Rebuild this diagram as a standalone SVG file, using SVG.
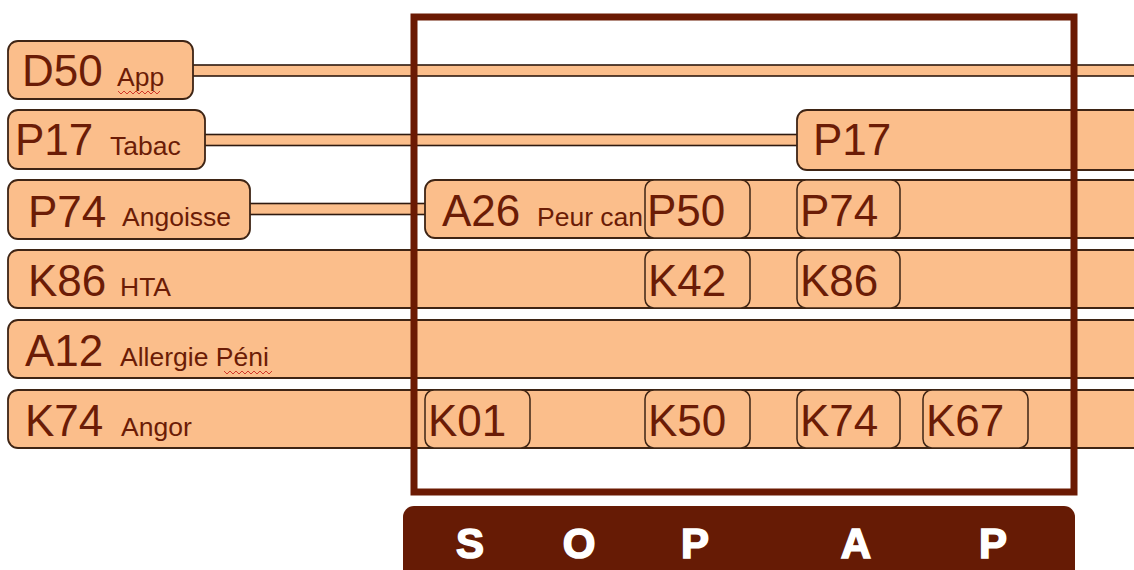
<svg xmlns="http://www.w3.org/2000/svg" width="1134" height="570" viewBox="0 0 1134 570">
<style>
.row{fill:#FBBE8B;stroke:#3E2414;stroke-width:1.8}
.cell{fill:#FBBE8B;stroke:#3E2414;stroke-width:1.5}
.band{fill:#FBBE8B;stroke:#2E1A10;stroke-width:1.6}
.code{font-family:"Liberation Sans",Arial,sans-serif;font-size:44px;fill:#6B1C06}
.lbl{font-family:"Liberation Sans",Arial,sans-serif;font-size:26.5px;fill:#6B1C06}
.soap{font-family:"Liberation Sans",Arial,sans-serif;font-size:42px;font-weight:bold;fill:#FFFFFF;stroke:#FFFFFF;stroke-width:1.6;text-anchor:middle}
.sq{fill:none;stroke:#D23A2A;stroke-width:1}
</style>
<rect width="1134" height="570" fill="#FFFFFF"/>
<g id="connectors">
<rect class="band" x="192" y="65" width="960" height="11"/>
<rect class="band" x="204" y="134.5" width="596" height="11"/>
<rect class="band" x="249" y="203.5" width="178" height="11"/>
</g>
<g id="row-D50">
<rect class="row" x="8" y="41" width="185" height="58" rx="10"/>
<text class="code" x="22" y="86">D50</text>
<text class="lbl" x="117" y="86">App</text>
<path class="sq" d="M118 91 l3 3 l3 -3 l3 3 l3 -3 l3 3 l3 -3 l3 3 l3 -3 l3 3 l3 -3 l3 3 l3 -3 l3 3 l3 -3"/>
</g>
<g id="row-P17">
<rect class="row" x="8" y="110" width="197" height="59" rx="10"/>
<text class="code" x="15" y="155">P17</text>
<text class="lbl" x="110" y="155">Tabac</text>
</g>
<g id="node-P17-right">
<rect class="row" x="797" y="110" width="360" height="60" rx="10"/>
<text class="code" x="813" y="155">P17</text>
</g>
<g id="row-P74">
<rect class="row" x="8" y="180" width="242" height="59" rx="10"/>
<text class="code" x="28" y="227">P74</text>
<text class="lbl" x="122" y="226">Angoisse</text>
</g>
<g id="node-A26">
<rect class="row" x="425" y="180" width="732" height="58" rx="10"/>
<text class="code" x="442" y="226">A26</text>
<text class="lbl" x="537" y="226">Peur can</text>
</g>
<g id="node-P50">
<rect class="cell" x="645" y="180" width="105" height="58" rx="9"/>
<text class="code" x="647" y="226">P50</text>
</g>
<g id="node-P74-right">
<rect class="cell" x="797" y="180" width="103" height="58" rx="9"/>
<text class="code" x="800" y="226">P74</text>
</g>
<g id="row-K86">
<rect class="row" x="8" y="250" width="1149" height="58" rx="10"/>
<text class="code" x="28" y="296">K86</text>
<text class="lbl" x="120" y="296">HTA</text>
</g>
<g id="node-K42">
<rect class="cell" x="645" y="250" width="105" height="58" rx="9"/>
<text class="code" x="648" y="296">K42</text>
</g>
<g id="node-K86-right">
<rect class="cell" x="797" y="250" width="103" height="58" rx="9"/>
<text class="code" x="800" y="296">K86</text>
</g>
<g id="row-A12">
<rect class="row" x="8" y="320" width="1149" height="58" rx="10"/>
<text class="code" x="25" y="366">A12</text>
<text class="lbl" x="120" y="366">Allergie Péni</text>
<path class="sq" d="M224 371 l3 3 l3 -3 l3 3 l3 -3 l3 3 l3 -3 l3 3 l3 -3 l3 3 l3 -3 l3 3 l3 -3 l3 3 l3 -3 l3 3 l3 -3"/>
</g>
<g id="row-K74">
<rect class="row" x="8" y="390" width="1149" height="58" rx="10"/>
<text class="code" x="25" y="436">K74</text>
<text class="lbl" x="121" y="436">Angor</text>
</g>
<g id="node-K01">
<rect class="cell" x="425" y="390" width="105" height="58" rx="9"/>
<text class="code" x="428" y="436">K01</text>
</g>
<g id="node-K50">
<rect class="cell" x="645" y="390" width="105" height="58" rx="9"/>
<text class="code" x="648" y="436">K50</text>
</g>
<g id="node-K74-right">
<rect class="cell" x="797" y="390" width="103" height="58" rx="9"/>
<text class="code" x="800" y="436">K74</text>
</g>
<g id="node-K67">
<rect class="cell" x="923" y="390" width="105" height="58" rx="9"/>
<text class="code" x="926" y="436">K67</text>
</g>
<g id="frame">
<rect x="414" y="17" width="660" height="475" fill="none" stroke="#6B1A03" stroke-width="7"/>
</g>
<g id="soap-bar">
<rect x="403" y="506" width="672" height="80" rx="11" fill="#661B05"/>
<text class="soap" x="470" y="558">S</text>
<text class="soap" x="579" y="558">O</text>
<text class="soap" x="695" y="558">P</text>
<text class="soap" x="856" y="558">A</text>
<text class="soap" x="993" y="558">P</text>
</g>
</svg>
